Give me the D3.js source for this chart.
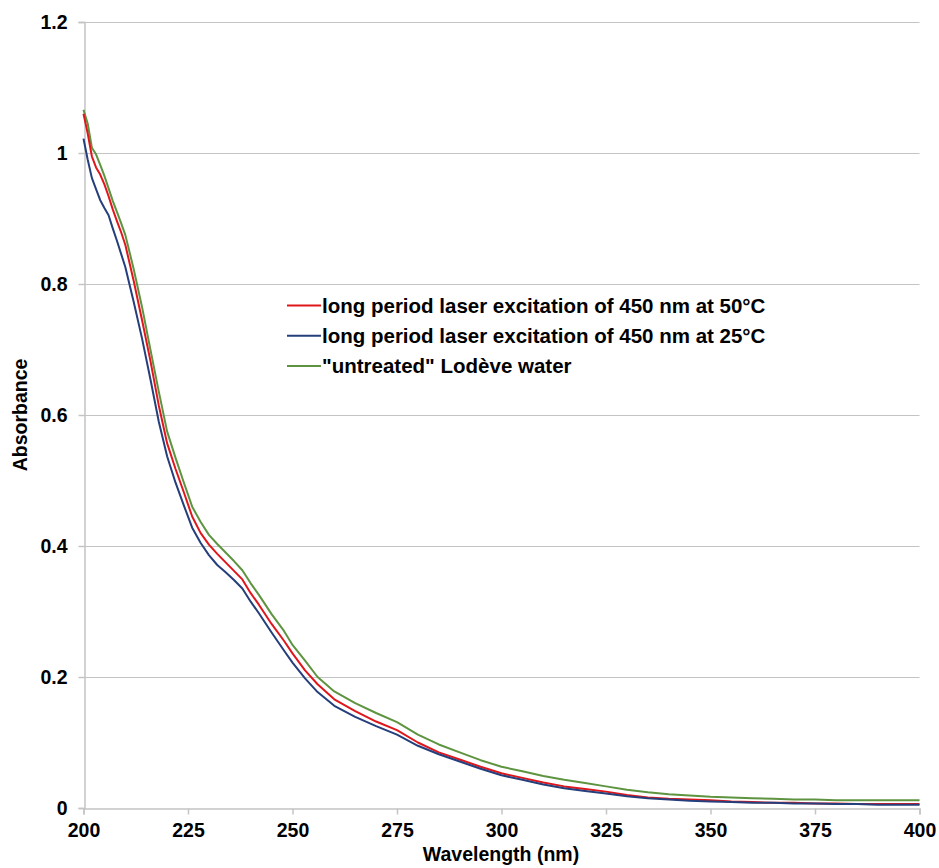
<!DOCTYPE html>
<html><head><meta charset="utf-8">
<script src="https://cdn.jsdelivr.net/npm/d3@7"></script>
<style>
body{margin:0;background:#fff;}
svg text{font-family:"Liberation Sans",Arial,sans-serif;font-weight:bold;fill:#000;}
</style></head>
<body><svg id="c" width="939" height="868"></svg>
<script>
const wavelengths = [200,201,202,203,204,205,206,207,208,209,210,212,214,216,218,220,222,224,226,228,230,232,234,236,238,240,242,245,248,250,253,256,260,265,270,275,280,285,290,295,300,305,310,315,320,325,330,335,340,345,350,355,360,365,370,375,380,385,390,395,400];
const red50 = [1.060,1.030,0.995,0.978,0.967,0.952,0.934,0.914,0.896,0.879,0.860,0.805,0.745,0.683,0.615,0.557,0.518,0.482,0.445,0.420,0.402,0.388,0.375,0.362,0.349,0.328,0.310,0.281,0.255,0.236,0.210,0.189,0.166,0.148,0.132,0.119,0.100,0.085,0.074,0.063,0.053,0.046,0.039,0.033,0.029,0.025,0.020,0.016,0.014,0.013,0.012,0.010,0.009,0.008,0.008,0.007,0.007,0.006,0.006,0.006,0.006];
const blue25 = [1.022,0.990,0.962,0.945,0.928,0.916,0.905,0.885,0.866,0.846,0.826,0.773,0.717,0.655,0.590,0.537,0.497,0.462,0.428,0.405,0.386,0.371,0.360,0.348,0.335,0.315,0.297,0.268,0.240,0.222,0.198,0.177,0.156,0.139,0.125,0.112,0.095,0.082,0.071,0.060,0.050,0.043,0.036,0.030,0.026,0.022,0.018,0.015,0.013,0.011,0.010,0.009,0.008,0.008,0.007,0.007,0.006,0.006,0.005,0.005,0.005];
const green = [1.066,1.045,1.008,0.998,0.982,0.965,0.946,0.927,0.910,0.893,0.875,0.823,0.765,0.700,0.636,0.575,0.535,0.497,0.460,0.437,0.417,0.403,0.390,0.377,0.363,0.343,0.325,0.296,0.270,0.249,0.225,0.200,0.178,0.160,0.145,0.131,0.112,0.097,0.085,0.073,0.063,0.056,0.049,0.043,0.038,0.033,0.028,0.024,0.021,0.019,0.017,0.016,0.015,0.014,0.013,0.013,0.012,0.012,0.012,0.012,0.012];
const seriesNames = ["long period laser excitation of 450 nm at 50°C","long period laser excitation of 450 nm at 25°C","\"untreated\" Lodève water"];
const seriesColors = ["#e0161d","#243f7c","#5e9440"];
const xTicks = [200,225,250,275,300,325,350,375,400];
const yTicks = [0,0.2,0.4,0.6,0.8,1,1.2];

const svg = d3.select("#c");
const L=83.5, R=919.5, T=22, B=808;
const x = d3.scaleLinear().domain([200,400]).range([L,R]);
const y = d3.scaleLinear().domain([0,1.2]).range([B,T]);

// gridlines
svg.append("g").selectAll("line").data(yTicks.filter(d=>d>0)).join("line")
  .attr("x1",L).attr("x2",R).attr("y1",d=>Math.round(y(d))+0.5).attr("y2",d=>Math.round(y(d))+0.5)
  .attr("stroke","#c4c4c4").attr("stroke-width",1);

// axes
const xAxis = svg.append("g").attr("transform",`translate(0,${Math.round(B)+0.5})`)
  .call(d3.axisBottom(x).tickValues(xTicks).tickFormat(d3.format("d")).tickSize(6).tickPadding(9));
const yAxis = svg.append("g").attr("transform",`translate(${Math.round(L)+0.5},0)`)
  .call(d3.axisLeft(y).tickValues(yTicks).tickFormat(d=>d===0?"0":(d===1?"1":d3.format(".1f")(d))).tickSize(6).tickPadding(11));
[xAxis,yAxis].forEach(g=>{
  g.select(".domain").attr("stroke","#c4c4c4").attr("stroke-width",1.5);
  g.selectAll(".tick line").attr("stroke","#c4c4c4").attr("stroke-width",1.5);
  g.selectAll("text").style("font-size","19.5px").style("font-family","Liberation Sans, Arial, sans-serif").style("font-weight","bold").attr("fill","#000");
});

// lines
const data = [red50, blue25, green];
const line = d3.line().x((d,i)=>x(wavelengths[i])).y(d=>y(d));
const order = [2,0,1];
order.forEach(k=>{
  svg.append("path").datum(data[k]).attr("d",line).attr("fill","none")
    .attr("stroke",seriesColors[k]).attr("stroke-width",2).attr("stroke-linejoin","round");
});

// legend
const lg = svg.append("g");
seriesNames.forEach((n,i)=>{
  const yy = 305.5 + i*30.3;
  lg.append("line").attr("x1",287).attr("x2",321).attr("y1",yy).attr("y2",yy).attr("stroke",seriesColors[i]).attr("stroke-width",2);
  lg.append("text").attr("x",322).attr("y",yy+7).style("font-size","20.5px").text(n);
});

// axis titles
svg.append("text").attr("x",501).attr("y",861).attr("text-anchor","middle").style("font-size","19.5px").text("Wavelength (nm)");
svg.append("text").attr("transform","translate(27,415) rotate(-90)").attr("text-anchor","middle").style("font-size","19.5px").text("Absorbance");
</script></body></html>
